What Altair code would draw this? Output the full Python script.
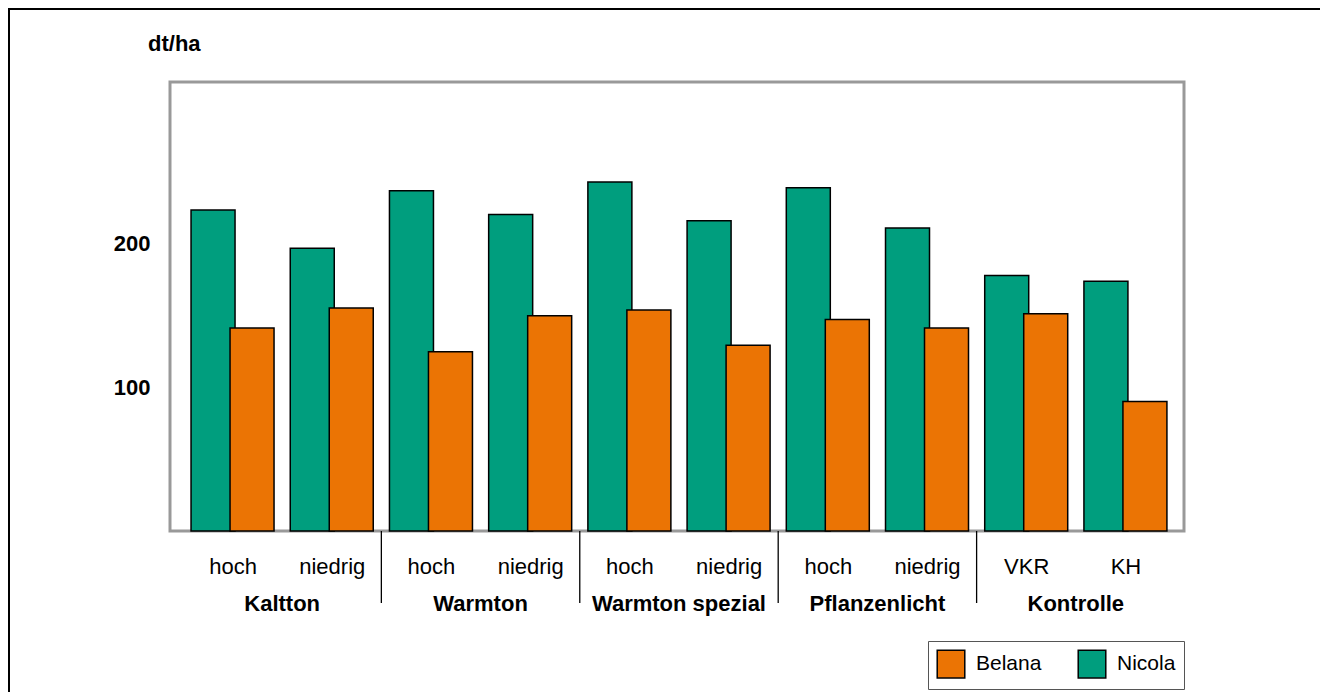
import altair as alt
import pandas as pd

# categories
groups = ['Kaltton', 'Warmton', 'Warmton spezial', 'Pflanzenlicht', 'Kontrolle']
subs = ['hoch', 'niedrig', 'hoch', 'niedrig', 'hoch', 'niedrig', 'hoch', 'niedrig', 'VKR', 'KH']
# yields, dt/ha
nicola = [223, 196.5, 236.5, 220, 242.5, 215.5, 238.5, 210.5, 177.5, 173.5]
belana = [141, 155, 124.5, 149.5, 153.5, 129, 147, 141, 151, 90]

FONT = 'Liberation Sans'
GREEN = '#009E7E'
ORANGE = '#EB7404'
W, H = 1014, 449

rows = []
for i, s in enumerate(subs):
    rows.append({'idx': i, 'sub': s, 'sorte': 'Nicola', 'wert': nicola[i]})
    rows.append({'idx': i, 'sub': s, 'sorte': 'Belana', 'wert': belana[i]})
df = pd.DataFrame(rows)

grp_df = pd.DataFrame({'gruppe': groups, 'pos': [2 * g + 0.5 for g in range(len(groups))]})
sep_df = pd.DataFrame({'pos': [2 * g + 1.5 for g in range(len(groups) - 1)]})

label_expr = '[' + ','.join("'%s'" % s for s in subs) + '][datum.value]'

xscale = alt.Scale(domain=[-0.58, 9.54], nice=False, zero=False)
yscale = alt.Scale(domain=[0, 312], nice=False)

x_axis = alt.Axis(values=list(range(len(subs))), labelExpr=label_expr, title=None,
                  domain=False, ticks=False, grid=False, labelFont=FONT, labelFontSize=22,
                  labelColor='black', labelPadding=25)
y_axis = alt.Axis(values=[100, 200], title=None, domain=False, ticks=False, grid=False,
                  labelFont=FONT, labelFontSize=22, labelFontWeight='bold',
                  labelColor='black', labelPadding=20)

color = alt.Color('sorte:N',
                  scale=alt.Scale(domain=['Belana', 'Nicola'], range=[ORANGE, GREEN]),
                  legend=alt.Legend(orient='none', legendX=758, legendY=559,
                                    direction='horizontal', title=None, symbolType='square',
                                    symbolSize=760, symbolStrokeColor='black',
                                    symbolStrokeWidth=1.5, symbolOpacity=1,
                                    labelFont=FONT, labelFontSize=21, labelColor='black',
                                    labelOffset=10, columnPadding=33, padding=8,
                                    strokeColor='#555555'))

base = alt.Chart(df).encode(
    x=alt.X('idx:Q', scale=xscale, axis=x_axis),
    y=alt.Y('wert:Q', scale=yscale, axis=y_axis),
    color=color,
)

bars_nicola = base.transform_filter(alt.datum.sorte == 'Nicola').mark_bar(
    width=44, xOffset=-19.5, stroke='black', strokeWidth=1.5, opacity=1)
bars_belana = base.transform_filter(alt.datum.sorte == 'Belana').mark_bar(
    width=44, xOffset=19.5, stroke='black', strokeWidth=1.5, opacity=1)

group_text = alt.Chart(grp_df).mark_text(
    font=FONT, fontSize=22, fontWeight='bold', color='black', baseline='middle', align='center'
).encode(x=alt.X('pos:Q', scale=xscale), y=alt.value(522), text='gruppe:N')

separators = alt.Chart(sep_df).mark_rule(color='black', strokeWidth=1.3).encode(
    x=alt.X('pos:Q', scale=xscale), y=alt.value(H), y2=alt.value(521))

unit_text = alt.Chart(pd.DataFrame({'t': ['dt/ha']})).mark_text(
    font=FONT, fontSize=22, fontWeight='bold', color='black', align='left', baseline='middle'
).encode(x=alt.value(-22), y=alt.value(-38), text='t:N')

# outer frame: only the top and left edges show in the picture
frame_top = alt.Chart(pd.DataFrame({'t': [0]})).mark_rect(color='black', strokeWidth=0).encode(
    x=alt.value(-162), x2=alt.value(W + 136), y=alt.value(-74), y2=alt.value(-72))
frame_left = alt.Chart(pd.DataFrame({'t': [0]})).mark_rect(color='black', strokeWidth=0).encode(
    x=alt.value(-162), x2=alt.value(-160), y=alt.value(-74), y2=alt.value(H + 161))

chart = alt.layer(frame_top, frame_left, bars_nicola, bars_belana, separators, group_text,
                  unit_text).properties(
    width=W, height=H,
    autosize=alt.AutoSizeParams(type='none'),
    padding={'left': 162, 'top': 74, 'right': 136, 'bottom': 161},
    background='white',
).configure_view(stroke='#999999', strokeWidth=3)

chart.save("out.html", embed_options={"renderer": "svg", "actions": False})
